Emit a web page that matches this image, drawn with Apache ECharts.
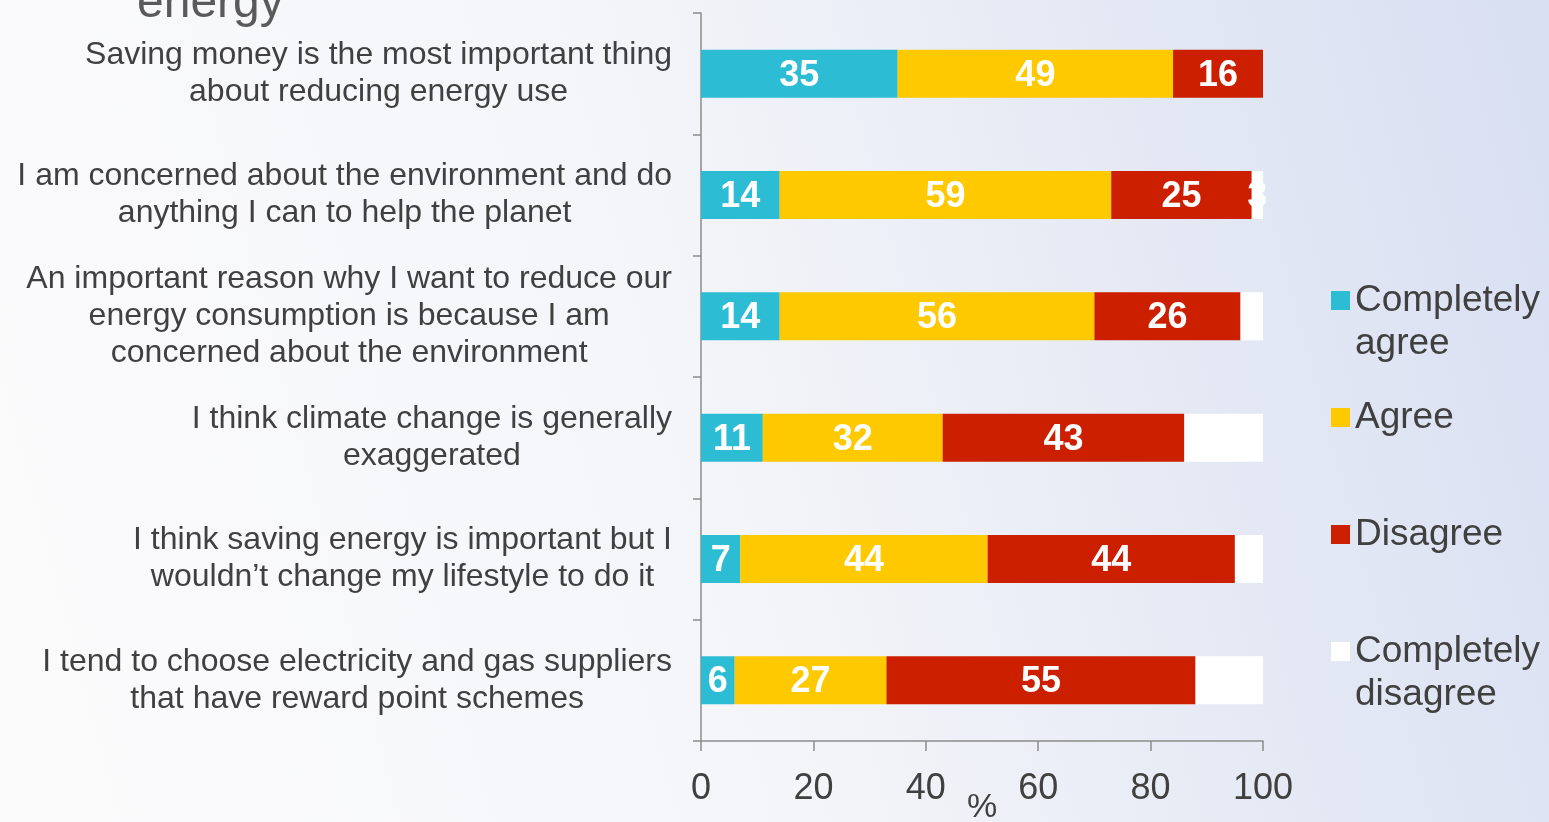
<!DOCTYPE html>
<html>
<head>
<meta charset="utf-8">
<script src="https://cdn.jsdelivr.net/npm/echarts@6/dist/echarts.min.js"></script>
<style>
  html, body { margin: 0; padding: 0; }
  #chart { width: 1549px; height: 822px; }
</style>
</head>
<body>
<div id="chart"></div>
<script>
var categories = [
    'Saving money is the most important thing\nabout reducing energy use',
    'I am concerned about the environment and do\nanything I can to help the planet',
    'An important reason why I want to reduce our\nenergy consumption is because I am\nconcerned about the environment',
    'I think climate change is generally\nexaggerated',
    'I think saving energy is important but I\nwouldn\u2019t change my lifestyle to do it',
    'I tend to choose electricity and gas suppliers\nthat have reward point schemes'
];
var completelyAgree = [35, 14, 14, 11, 7, 6];
var agree = [49, 59, 56, 32, 44, 27];
var disagree = [16, 25, 26, 43, 44, 55];
var completelyDisagree = [0, 3, 4, 14, 5, 12];
var xTicks = [0, 20, 40, 60, 80, 100];

var seriesNames = ['Completely agree', 'Agree', 'Disagree', 'Completely disagree'];
var seriesData = [completelyAgree, agree, disagree, completelyDisagree];
var colors = ['#2cbcd3', '#ffc900', '#cc1f00', '#ffffff'];

var font = 'Liberation Sans, Arial, sans-serif';

var chart = echarts.init(document.getElementById('chart'));

// one legend per entry so the gaps can follow the picture
var legendTops = [236, 396, 513, 587];
var legends = seriesNames.map(function (name, i) {
    return {
        data: [name],
        orient: 'vertical',
        left: 1331,
        top: legendTops[i],
        padding: 0,
        itemWidth: 19,
        itemHeight: 19,
        icon: 'rect',
        selectedMode: false,
        // empty first line keeps "Completely" level with the square
        formatter: function (n) { return n.replace('Completely ', '\nCompletely\n'); },
        textStyle: {
            fontFamily: font,
            fontSize: 37,
            lineHeight: 43,
            color: '#404040'
        }
    };
});

var option = {
    backgroundColor: {
        type: 'linear', x: 0, y: 0.7, x2: 1, y2: 0.2,
        colorStops: [
            { offset: 0, color: '#fbfbfc' },
            { offset: 0.45, color: '#f4f5f9' },
            { offset: 0.75, color: '#e4e9f4' },
            { offset: 1, color: '#d9e0f2' }
        ]
    },
    graphic: [{
        type: 'text',
        left: 137,
        top: -20,
        style: { text: 'energy', font: '48px ' + font, fill: '#5a5a5a' }
    }],
    legend: legends,
    grid: { left: 701, right: 286, top: 13, bottom: 81, outerBoundsMode: 'none', containLabel: false },
    xAxis: {
        type: 'value',
        min: 0,
        max: 100,
        interval: 20,
        name: '%',
        nameLocation: 'middle',
        nameGap: 50,
        nameMoveOverlap: false,
        nameTextStyle: { fontFamily: font, fontSize: 34, color: '#404040' },
        splitLine: { show: false },
        axisLine: { show: true, lineStyle: { color: '#8c8c8c', width: 1.5 } },
        axisTick: { show: true, length: 10, lineStyle: { color: '#8c8c8c', width: 1.5 } },
        axisLabel: {
            margin: 30,
            fontFamily: font,
            fontSize: 36,
            color: '#404040',
            formatter: function (v) { return xTicks.indexOf(v) >= 0 ? String(v) : ''; }
        }
    },
    yAxis: {
        type: 'category',
        inverse: true,
        data: categories,
        axisLine: { show: true, lineStyle: { color: '#8c8c8c', width: 1.5 } },
        axisTick: { show: true, length: 8, lineStyle: { color: '#8c8c8c', width: 1.5 } },
        axisLabel: {
            margin: 29,
            align: 'right',
            fontFamily: font,
            fontSize: 32,
            lineHeight: 37,
            color: '#404040',
            formatter: function (v) {
                return v.split('\n').map(function (l) { return '{c|' + l + '}'; }).join('\n');
            },
            rich: {
                c: { align: 'center', fontFamily: font, fontSize: 32, lineHeight: 37, color: '#404040' }
            }
        }
    },
    series: seriesNames.map(function (name, i) {
        return {
            name: name,
            type: 'bar',
            stack: 'total',
            barWidth: 48,
            data: seriesData[i],
            itemStyle: { color: colors[i] },
            emphasis: { disabled: true },
            label: {
                show: true,
                position: 'inside',
                offset: [0, 2],
                color: '#ffffff',
                fontFamily: font,
                fontWeight: 'bold',
                fontSize: 36,
                formatter: function (p) { return p.value ? String(p.value) : ''; }
            }
        };
    })
};

chart.setOption(option);
</script>
</body>
</html>
